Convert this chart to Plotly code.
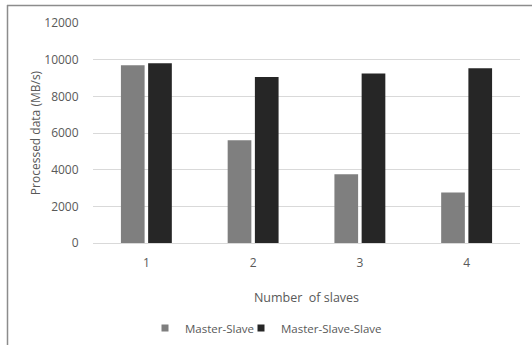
import plotly.graph_objects as go

categories = ["1", "2", "3", "4"]
master_slave = [9700, 5600, 3750, 2750]
master_slave_slave = [9800, 9050, 9250, 9530]
y_ticks = [0, 2000, 4000, 6000, 8000, 10000, 12000]
y_tick_text = ["0", "2000", "4000", "6000", "8000", "10000", "12000"]
series_names = ["Master-Slave", "Master-Slave-Slave"]
series_colors = ["#7f7f7f", "#262626"]

W, H = 532, 345
L, R, T, B = 93, 12, 23, 102
pw = W - L - R
ph = H - T - B

def px_x(p):
    return (p - L) / pw

def px_y(p):
    return (H - B - p) / ph

font = "Open Sans"
fig = go.Figure()
for vals, name, col in zip([master_slave, master_slave_slave], series_names, series_colors):
    fig.add_trace(go.Bar(x=categories, y=vals, name=name, showlegend=False,
                         marker=dict(color=col, line=dict(width=0))))
# legend entries with small square symbols, one legend box each
legend_ids = ["legend", "legend2"]
legend_starts = [145, 241]
for name, col, lid in zip(series_names, series_colors, legend_ids):
    fig.add_trace(go.Scatter(x=[None], y=[None], mode="markers", name=name,
                             legend=lid,
                             marker=dict(symbol="square", size=7, color=col)))

legend_common = dict(orientation="h", xanchor="left", y=px_y(328), yanchor="middle",
                     font=dict(size=11.5, color="#595959"), itemwidth=30,
                     bgcolor="rgba(0,0,0,0)", borderwidth=0)

fig.update_layout(
    width=W, height=H,
    margin=dict(l=L, r=R, t=T, b=B, pad=0, autoexpand=False),
    paper_bgcolor="white", plot_bgcolor="white",
    barmode="group", bargap=0.49, bargroupgap=0.13,
    font=dict(family=font, size=12, color="#595959"),
    showlegend=True,
    legend=dict(x=px_x(legend_starts[0]), **legend_common),
    legend2=dict(x=px_x(legend_starts[1]), **legend_common),
    xaxis=dict(showgrid=False, showline=False, zeroline=False,
               ticks="outside", ticklen=9, tickcolor="rgba(0,0,0,0)",
               tickfont=dict(size=12, color="#595959"),
               title=dict(text="Number  of slaves", font=dict(size=12.5, color="#595959"), standoff=22)),
    yaxis=dict(range=[0, 12000], tickvals=y_ticks, ticktext=y_tick_text, showgrid=True,
               gridcolor="#d9d9d9", gridwidth=1, zeroline=True,
               zerolinecolor="#d9d9d9", zerolinewidth=1, showline=False,
               ticks="outside", ticklen=11, tickcolor="rgba(0,0,0,0)",
               tickfont=dict(size=12, color="#595959"),
               title=dict(text="Processed data (MB/s)", font=dict(size=12, color="#595959"), standoff=1)),
)

fig.add_shape(type="line", xref="paper", yref="paper",
              x0=px_x(7), x1=px_x(540), y0=px_y(5.5), y1=px_y(5.5),
              line=dict(color="#8c8c8c", width=1.5))
fig.add_shape(type="line", xref="paper", yref="paper",
              x0=px_x(7.5), x1=px_x(7.5), y0=px_y(5), y1=px_y(350),
              line=dict(color="#8c8c8c", width=1.5))

fig.write_html("out.html")
